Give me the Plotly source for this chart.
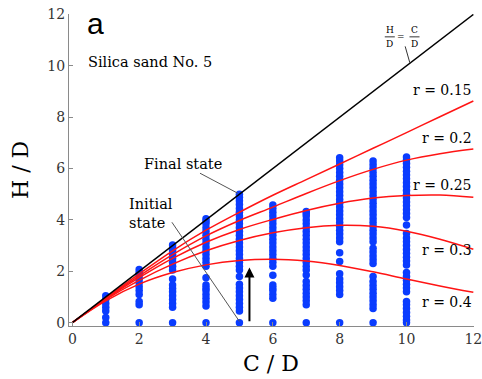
import plotly.graph_objects as go

# ---------------- data ----------------
curve_x = [0, 1, 2, 3, 4, 5, 6, 7, 8, 9, 10, 11, 12]
r_015 = [0, 0.96, 1.9, 2.8, 3.6, 4.3, 4.96, 5.57, 6.18, 6.79, 7.4, 8.02, 8.63]
r_020 = [0, 0.94, 1.82, 2.65, 3.38, 3.98, 4.5, 5.03, 5.53, 5.97, 6.33, 6.58, 6.76]
r_025 = [0, 0.92, 1.75, 2.5, 3.13, 3.63, 4.02, 4.37, 4.65, 4.85, 4.95, 4.97, 4.88]
r_030 = [0, 0.9, 1.65, 2.28, 2.8, 3.2, 3.5, 3.7, 3.79, 3.75, 3.56, 3.25, 2.86]
r_040 = [0, 0.85, 1.5, 1.95, 2.25, 2.42, 2.47, 2.4, 2.23, 1.98, 1.7, 1.43, 1.18]
curve_labels = ["r = 0.15", "r = 0.2", "r = 0.25", "r = 0.3", "r = 0.4"]

diag_x = [0, 12]
diag_y = [0, 12]

# measured H/D for each C/D column
col_cd = [1, 2, 3, 4, 5, 6, 7, 8, 9, 10]
col1 = [0.0, 0.2, 0.45, 0.6, 0.75, 0.9, 1.05]
col2 = [0.0, 0.7, 0.82, 1.1, 1.25, 1.4, 1.55, 1.7, 1.85, 1.95, 2.07]
col3 = [0.0, 0.6, 0.75, 0.9, 1.05, 1.2, 1.33, 1.47, 1.7, 2.05, 2.2, 2.35, 2.5,
        2.65, 2.8, 2.9, 3.02]
col4 = [0.0, 0.65, 0.8, 0.95, 1.1, 1.25, 1.35, 1.47, 1.75, 2.2, 2.35, 2.5, 2.65,
        2.8, 2.95, 3.1, 3.25, 3.4, 3.55, 3.7, 3.85, 3.95, 4.05]
col5 = [0.0, 0.45, 0.6, 0.75, 0.9, 1.05, 1.2, 1.35, 1.5, 1.8, 2.05, 2.2, 2.35,
        2.5, 2.65, 2.8, 2.95, 3.1, 3.25, 3.4, 3.55, 3.7, 3.85, 4.0, 4.15, 4.3,
        4.45, 4.6, 4.75, 4.88, 5.0]
col6 = [0.0, 0.95, 1.1, 1.25, 1.35, 1.47, 1.85, 2.2, 2.35, 2.5, 2.65, 2.8, 2.95,
        3.1, 3.25, 3.4, 3.55, 3.7, 3.85, 4.0, 4.15, 4.3, 4.45, 4.58]
col7 = [0.0, 0.7, 0.85, 1.0, 1.15, 1.3, 1.45, 1.6, 1.86, 2.05, 2.2, 2.35, 2.5,
        2.65, 2.8, 2.95, 3.1, 3.25, 3.4, 3.55, 3.7, 3.85, 4.0, 4.15, 4.25, 4.33]
col8 = [0.0, 1.1, 1.25, 1.4, 1.55, 1.7, 1.9, 2.38, 2.72, 3.15, 3.3, 3.45, 3.6,
        3.75, 3.9, 4.05, 4.2, 4.35, 4.5, 4.65, 4.8, 4.95, 5.1, 5.25, 5.4, 5.55,
        5.7, 5.85, 6.0, 6.15, 6.3, 6.42]
col9 = [0.0, 0.55, 0.7, 0.85, 1.0, 1.15, 1.3, 1.45, 1.6, 1.8, 2.3, 2.45, 2.6,
        2.75, 2.9, 3.15, 3.3, 3.45, 3.6, 3.75, 3.9, 4.05, 4.2, 4.35, 4.5, 4.65,
        4.8, 4.95, 5.1, 5.25, 5.4, 5.55, 5.7, 5.85, 6.0, 6.15, 6.3]
col10 = [0.0, 0.1, 0.25, 0.4, 0.55, 0.7, 0.82, 1.2, 1.35, 1.5, 1.65, 1.8, 1.95,
         2.25, 2.4, 2.55, 2.7, 2.85, 3.0, 3.15, 3.3, 3.47, 3.8, 4.1, 4.25, 4.4,
         4.55, 4.7, 4.85, 5.0, 5.15, 5.3, 5.45, 5.6, 5.75, 5.9, 6.05, 6.2,
         6.33, 6.45]
columns = [col1, col2, col3, col4, col5, col6, col7, col8, col9, col10]

x_ticks = [0, 2, 4, 6, 8, 10, 12]
y_ticks = [0, 2, 4, 6, 8, 10, 12]

# ---------------- figure ----------------
SERIF = "DejaVu Serif"
fig = go.Figure()

pts_x, pts_y = [], []
for cd, ys in zip(col_cd, columns):
    pts_x += [cd] * len(ys)
    pts_y += ys
fig.add_trace(go.Scatter(x=pts_x, y=pts_y, mode="markers",
                         marker=dict(size=7.5, color="#0a3cff", line=dict(width=0)),
                         hoverinfo="skip"))

for ys in [r_015, r_020, r_025, r_030, r_040]:
    fig.add_trace(go.Scatter(x=curve_x, y=ys, mode="lines",
                             line=dict(color="#ff1414", width=1.5, shape="spline"),
                             hoverinfo="skip"))

fig.add_trace(go.Scatter(x=diag_x, y=diag_y, mode="lines",
                         line=dict(color="black", width=1.5), hoverinfo="skip"))

ann = []
# r labels (right aligned at right edge)
for lab, yv in zip(curve_labels, [9.05, 7.18, 5.35, 2.83, 0.8]):
    ann.append(dict(x=1.0, xref="paper", y=yv, yref="y", text=lab, showarrow=False,
                    xanchor="right", yanchor="middle",
                    font=dict(family=SERIF, size=14, color="black")))

TXT = dict(family=SERIF, size=14.5, color="black")
ann += [
    dict(x=0.066, xref="paper", y=0.97, yref="paper", text="a", showarrow=False,
         xanchor="center", yanchor="middle",
         font=dict(family="Liberation Sans", size=30, color="black")),
    dict(x=0.40, xref="x", y=10.15, yref="y", text="Silica sand No. 5", showarrow=False,
         xanchor="left", yanchor="middle", font=TXT),
    dict(x=2.08, xref="x", y=6.17, yref="y", text="Final state", showarrow=False,
         xanchor="left", yanchor="middle", font=TXT),
    dict(x=1.64, xref="x", y=4.62, yref="y", text="Initial", showarrow=False,
         xanchor="left", yanchor="middle", font=TXT),
    dict(x=1.64, xref="x", y=3.88, yref="y", text="state", showarrow=False,
         xanchor="left", yanchor="middle", font=TXT),
    # fraction H/D = C/D
    dict(x=9.5, xref="x", y=11.38, yref="y", text="H", showarrow=False,
         font=dict(family=SERIF, size=9, color="black")),
    dict(x=9.5, xref="x", y=10.87, yref="y", text="D", showarrow=False,
         font=dict(family=SERIF, size=9, color="black")),
    dict(x=9.84, xref="x", y=11.14, yref="y", text="=", showarrow=False,
         font=dict(family=SERIF, size=9, color="black")),
    dict(x=10.24, xref="x", y=11.38, yref="y", text="C", showarrow=False,
         font=dict(family=SERIF, size=9, color="black")),
    dict(x=10.24, xref="x", y=10.87, yref="y", text="D", showarrow=False,
         font=dict(family=SERIF, size=9, color="black")),
    # axis titles
    dict(x=-0.121, xref="paper", y=0.5, yref="paper", text="H / D", showarrow=False,
         textangle=-90, xanchor="center", yanchor="middle",
         font=dict(family=SERIF, size=22, color="black")),
    dict(x=0.499, xref="paper", y=-0.119, yref="paper", text="C / D", showarrow=False,
         xanchor="center", yanchor="middle",
         font=dict(family=SERIF, size=22, color="black")),
    # upward arrow
    dict(x=5.3, y=2.15, xref="x", yref="y", ax=5.3, ay=0.0, axref="x", ayref="y",
         text="", showarrow=True, arrowhead=2, arrowsize=1, arrowwidth=2,
         arrowcolor="black"),
]

shapes = [
    dict(type="line", xref="x", yref="y", x0=3.82, y0=5.82, x1=4.95, y1=5.04,
         line=dict(color="#555", width=1)),
    dict(type="line", xref="x", yref="y", x0=2.98, y0=3.91, x1=5.0, y1=0.05,
         line=dict(color="#555", width=1)),
    dict(type="line", xref="x", yref="y", x0=9.96, y0=10.76, x1=10.1, y1=10.12,
         line=dict(color="#333", width=1)),
    dict(type="line", xref="x", yref="y", x0=9.35, y0=11.13, x1=9.65, y1=11.13,
         line=dict(color="black", width=0.8)),
    dict(type="line", xref="x", yref="y", x0=10.09, y0=11.13, x1=10.39, y1=11.13,
         line=dict(color="black", width=0.8)),
]

axis_common = dict(showgrid=False, zeroline=False, showline=True, linecolor="#8a8a8a",
                   linewidth=1.2, ticks="inside", ticklen=4, tickcolor="#8a8a8a",
                   tickwidth=1, ticklabeloverflow="allow", automargin=False,
                   tickfont=dict(family=SERIF, size=14, color="#333"))

fig.update_layout(
    width=482, height=379,
    margin=dict(l=69, r=8, t=14, b=53),
    paper_bgcolor="white", plot_bgcolor="white",
    showlegend=False,
    xaxis=dict(range=[-0.1, 12.02], tickvals=x_ticks, ticktext=[str(v) for v in x_ticks],
               **axis_common),
    yaxis=dict(range=[-0.13, 12.02], tickvals=y_ticks, ticktext=[str(v) for v in y_ticks],
               **axis_common),
    annotations=ann,
    shapes=shapes,
)

fig.write_html("out.html", config={"displayModeBar": False},
               post_script="document.body.style.margin='0';document.body.style.overflow='hidden';")
